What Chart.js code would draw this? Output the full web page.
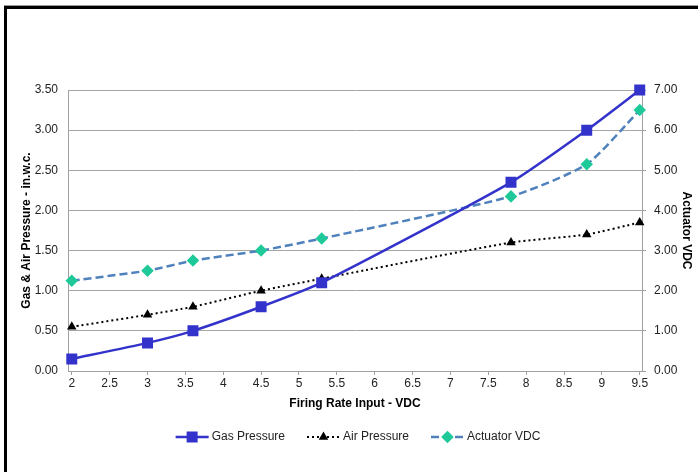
<!DOCTYPE html>
<html>
<head>
<meta charset="utf-8">
<script src="https://cdn.jsdelivr.net/npm/chart.js"></script>
<style>
  body { margin: 0; background: #fff; }
  #wrap { position: relative; width: 698px; height: 472px; overflow: hidden; }
  #frame { position: absolute; left: 4px; top: 6px; width: 800px; height: 600px;
           border-top: 3px solid #000; border-left: 3px solid #000; box-shadow: 0 -1px 0 #999; }
  canvas { position: absolute; left: 0; top: 0; }
</style>
</head>
<body>
<div id="wrap">
  <div id="frame"></div>
  <canvas id="lineChart" width="698" height="472"></canvas>
</div>
<script>
//========== data ==========//
const firingRate = [2, 3, 3.6, 4.5, 5.3, 7.8, 8.8, 9.5];
const gasPressure = [0.15, 0.35, 0.5, 0.8, 1.1, 2.35, 3.0, 3.5];
const airPressure = [0.55, 0.7, 0.8, 1.0, 1.15, 1.6, 1.7, 1.85];
const actuatorVdc = [2.25, 2.5, 2.75, 3.0, 3.3, 4.35, 5.15, 6.5];
const xTicks = [2, 2.5, 3, 3.5, 4, 4.5, 5, 5.5, 6, 6.5, 7, 7.5, 8, 8.5, 9, 9.5];

const pts = (ys) => firingRate.map((x, i) => ({ x: x, y: ys[i] }));

Chart.defaults.font.family = "'Liberation Sans', Arial, sans-serif";
Chart.defaults.font.size = 12;
Chart.defaults.color = '#222';

//========== legend drawn as line + marker ==========//
const lineLegend = {
    id: 'lineLegend',
    afterDraw(chart) {
        const ctx = chart.ctx;
        const sets = chart.data.datasets;
        const sample = 33, gap = 3, space = 22, y = 437;
        ctx.save();
        ctx.font = '12px ' + Chart.defaults.font.family;
        const widths = sets.map(ds => sample + gap + ctx.measureText(ds.label).width);
        const total = widths.reduce((a, b) => a + b, 0) + space * (sets.length - 1);
        let x = 358 - total / 2;
        sets.forEach((ds, i) => {
            ctx.setLineDash(ds.borderDash || []);
            ctx.strokeStyle = ds.borderColor;
            ctx.lineWidth = ds.borderWidth;
            ctx.beginPath();
            ctx.moveTo(x, y);
            ctx.lineTo(x + sample, y);
            ctx.stroke();
            ctx.setLineDash([]);
            ctx.fillStyle = ds.pointBackgroundColor;
            ctx.strokeStyle = ds.pointBorderColor;
            Chart.helpers.drawPoint(ctx, { pointStyle: ds.pointStyle, radius: ds.pointRadius, rotation: 0, borderWidth: 1 }, x + sample / 2, y);
            ctx.fillStyle = '#222';
            ctx.textBaseline = 'middle';
            ctx.fillText(ds.label, x + sample + gap, y);
            x += widths[i] + space;
        });
        ctx.restore();
    }
};

//========== config ==========//
const config = {
    type: 'line',
    data: {
        datasets: [{
            label: 'Gas Pressure',
            data: pts(gasPressure),
            yAxisID: 'y',
            borderColor: '#3333cc',
            borderWidth: 2.5,
            pointStyle: 'rect',
            pointRadius: 6,
            pointBackgroundColor: '#3333cc',
            pointBorderColor: '#3333cc',
            tension: 0.2,
            clip: false
        }, {
            label: 'Air Pressure',
            data: pts(airPressure),
            yAxisID: 'y',
            borderColor: '#000',
            borderWidth: 2,
            borderDash: [2, 3],
            pointStyle: 'triangle',
            pointRadius: 3.5,
            pointBackgroundColor: '#000',
            pointBorderColor: '#000',
            tension: 0.2,
            clip: false
        }, {
            label: 'Actuator VDC',
            data: pts(actuatorVdc),
            yAxisID: 'y1',
            borderColor: '#4f81bd',
            borderWidth: 2.5,
            borderDash: [8, 4],
            pointStyle: 'rectRot',
            pointRadius: 4.5,
            pointBackgroundColor: '#1fc999',
            pointBorderColor: '#1fc999',
            tension: 0.2,
            clip: false
        }]
    },
    options: {
        responsive: false,
        animation: false,
        layout: { padding: { top: 90, left: 15, right: 0, bottom: 57 } },
        plugins: { legend: { display: false }, tooltip: { enabled: false } },
        scales: {
            x: {
                type: 'linear',
                min: 1.95,
                max: 9.53,
                afterBuildTicks: (axis) => { axis.ticks = xTicks.map(v => ({ value: v })); },
                afterFit: (axis) => { axis.height = 44; },
                ticks: { padding: 1, callback: (v) => String(v) },
                grid: { drawOnChartArea: false, tickLength: 4, color: '#a0a0a0' },
                border: { color: '#a0a0a0' },
                title: { display: true, text: 'Firing Rate Input - VDC', font: { weight: 'bold' }, color: '#000' }
            },
            y: {
                position: 'left',
                min: 0,
                max: 3.5,
                afterFit: (axis) => { axis.width = 53; },
                ticks: { stepSize: 0.5, padding: 10, callback: (v) => v.toFixed(2) },
                grid: { color: '#a6a6a6', drawTicks: false },
                border: { color: '#a0a0a0' },
                title: { display: true, text: 'Gas & Air Pressure - in.w.c.', font: { weight: 'bold' }, color: '#000' }
            },
            y1: {
                position: 'right',
                min: 0,
                max: 7,
                afterFit: (axis) => { axis.width = 56; },
                ticks: { stepSize: 1, padding: 8, callback: (v) => v.toFixed(2) },
                grid: { drawOnChartArea: false, tickLength: 4, color: '#a0a0a0' },
                border: { color: '#a0a0a0' },
                title: { display: true, text: 'Actuator VDC', font: { weight: 'bold' }, color: '#000' }
            }
        }
    },
    plugins: [lineLegend]
};

//========== render ==========//
const lineChart = new Chart(document.getElementById('lineChart'), config);
</script>
</body>
</html>
